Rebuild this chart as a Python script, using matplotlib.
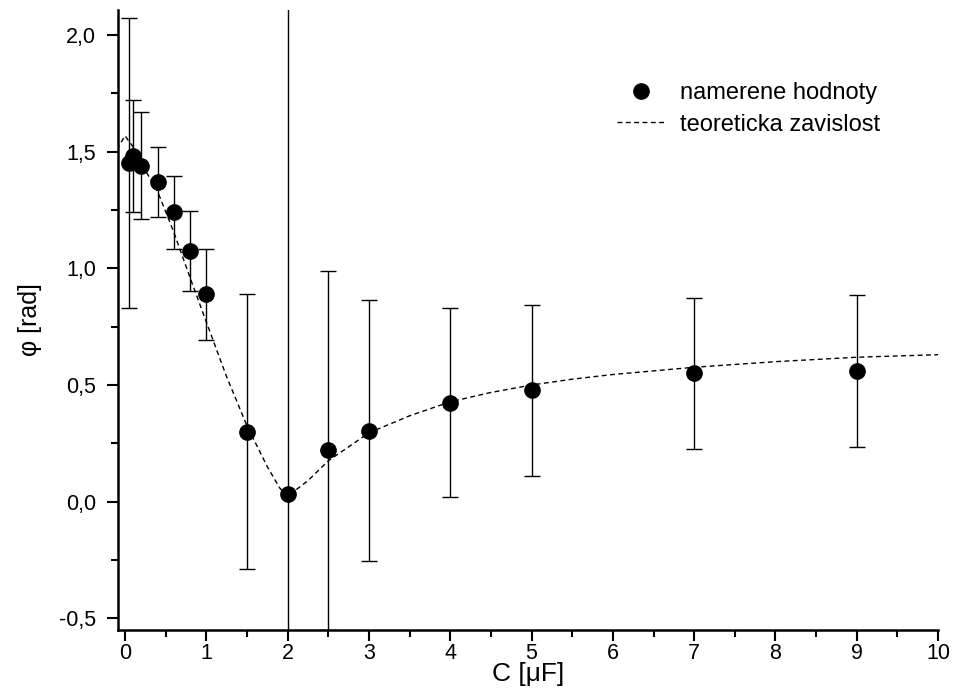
import matplotlib
matplotlib.use("Agg")
import matplotlib.pyplot as plt
from matplotlib.ticker import MultipleLocator, FuncFormatter

plt.rcParams['font.family'] = ['Liberation Sans', 'DejaVu Sans']

# measured values
c_meas = [0.05, 0.1, 0.2, 0.4, 0.6, 0.8, 1.0, 1.5, 2.0, 2.5, 3.0, 4.0, 5.0, 7.0, 9.0]
phi_meas = [1.452, 1.48, 1.44, 1.37, 1.24, 1.075, 0.89, 0.30, 0.035, 0.22, 0.305, 0.425, 0.478, 0.55, 0.56]
phi_err = [0.62, 0.24, 0.23, 0.15, 0.155, 0.17, 0.195, 0.59, 3.0, 0.77, 0.56, 0.405, 0.367, 0.323, 0.325]

# theoretical curve
c_theo = [-0.1, 0.0, 0.1, 0.25, 0.4, 0.6, 0.8, 1.0, 1.25, 1.5, 1.75, 1.9, 2.0, 2.1, 2.25,
          2.5, 2.75, 3.0, 3.5, 4.0, 4.5, 5.0, 5.5, 6.0, 7.0, 8.0, 9.0, 10.0]
phi_theo = [1.51, 1.568, 1.52, 1.42, 1.33, 1.155, 0.96, 0.77, 0.535, 0.325, 0.15, 0.06, 0.02, 0.05, 0.09,
            0.175, 0.235, 0.295, 0.368, 0.428, 0.468, 0.50, 0.525, 0.545, 0.576, 0.60, 0.619, 0.63]

fig = plt.figure(figsize=(9.58, 6.96), dpi=100)
ax = fig.add_axes([0.1232, 0.0948, 0.856, 0.8908])

ax.errorbar(c_meas, phi_meas, yerr=phi_err, fmt='none', ecolor='black',
            elinewidth=1.0, capsize=6, capthick=1.0, zorder=2)
ax.plot(c_meas, phi_meas, 'o', color='black', markersize=11, linestyle='none',
        label='namerene hodnoty', zorder=3)
ax.plot(c_theo, phi_theo, color='black', linestyle=(0, (3.5, 2.5)), linewidth=1.0,
        label='teoreticka zavislost', zorder=2)

ax.set_xlim(-0.086, 10)
ax.set_ylim(-0.55, 2.107)

ax.spines['top'].set_visible(False)
ax.spines['right'].set_visible(False)
ax.spines['left'].set_linewidth(1.8)
ax.spines['bottom'].set_linewidth(1.8)

ax.xaxis.set_major_locator(MultipleLocator(1))
ax.xaxis.set_minor_locator(MultipleLocator(0.5))
ax.yaxis.set_major_locator(MultipleLocator(0.5))
ax.yaxis.set_minor_locator(MultipleLocator(0.25))
ax.yaxis.set_major_formatter(FuncFormatter(lambda v, p: f"{v:.1f}".replace('.', ',')))
ax.tick_params(which='major', direction='out', length=8, width=1.5, labelsize=15.5)
ax.tick_params(which='minor', direction='out', length=5, width=1.5)
ax.tick_params(axis='x', which='major', pad=1)
ax.tick_params(axis='y', which='major', pad=8)

ax.set_xlabel('C [μF]', fontsize=19, labelpad=-1)
ax.set_ylabel('φ [rad]', fontsize=18, labelpad=12)

ax.legend(loc='upper left', bbox_to_anchor=(0.583, 0.918), frameon=False, fontsize=17,
          handlelength=2.0, handletextpad=0.64, labelspacing=0.4)

fig.savefig('out.png', dpi=100)
